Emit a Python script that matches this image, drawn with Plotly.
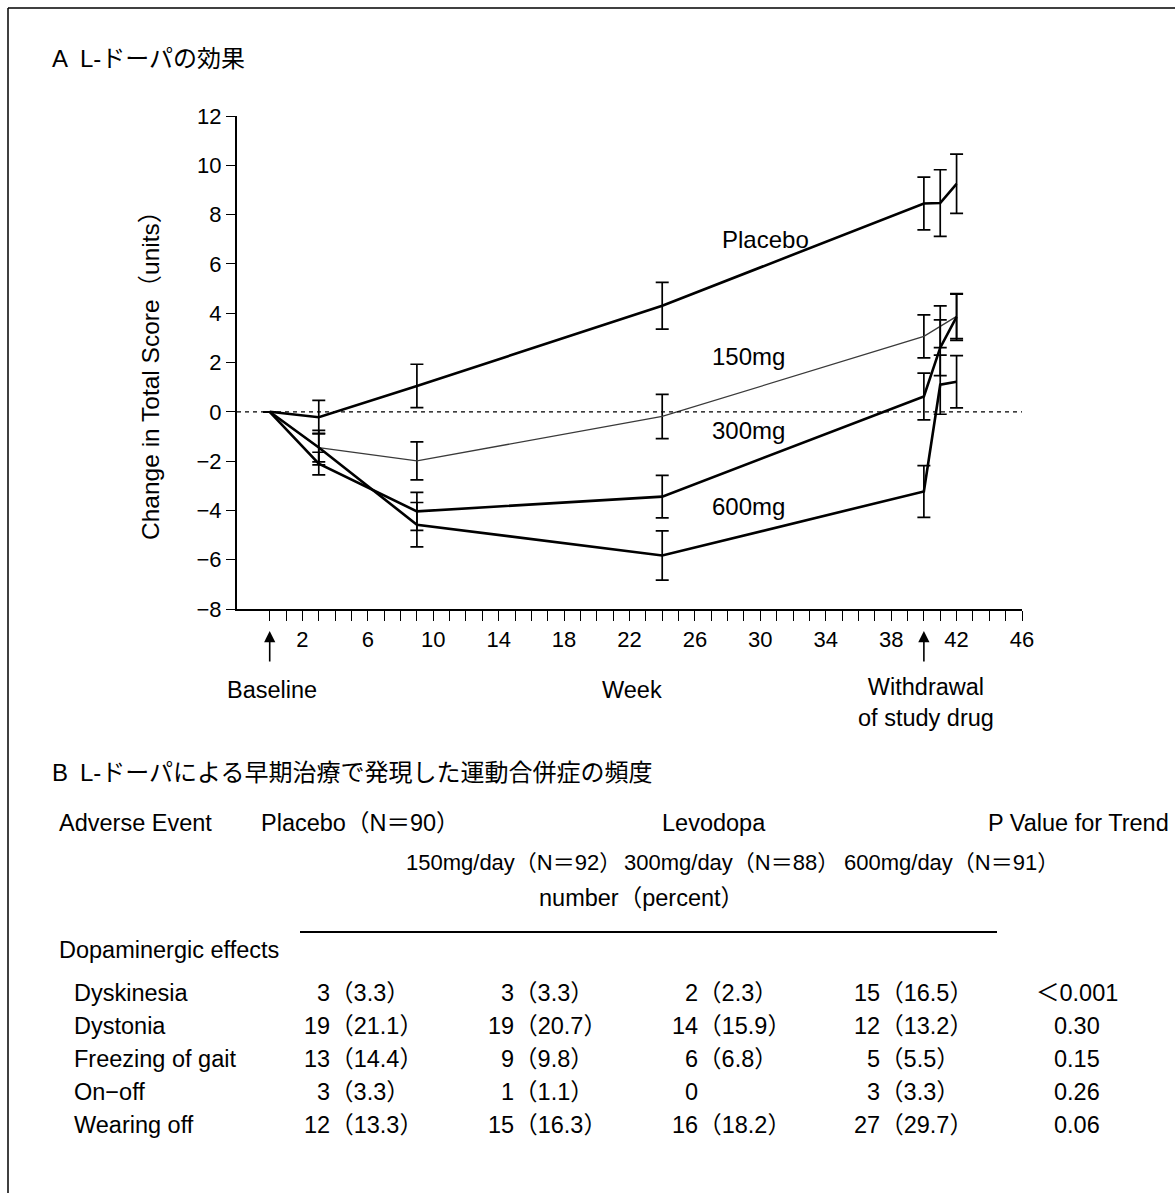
import plotly.graph_objects as go

W, H = 1175, 1193
FONT = "Liberation Sans, Arial, Noto Sans CJK JP, sans-serif"

# ---------------- data: panel A ----------------
weeks = [0, 3, 9, 24, 40, 41, 42]
placebo = [0, -0.22, 1.05, 4.3, 8.45, 8.47, 9.25]
placebo_err = [None, 0.68, 0.88, 0.95, 1.07, 1.35, 1.2]
mg150 = [0, -1.45, -1.99, -0.19, 3.06, 3.45, 3.87]
mg150_err = [None, 0.7, 0.77, 0.9, 0.87, 0.85, 0.9]
mg300 = [0, -2.1, -4.04, -3.44, 0.62, 2.6, 3.85]
mg300_err = [None, 0.46, 0.77, 0.86, 0.95, 1.13, 0.95]
mg600 = [0, -1.45, -4.58, -5.83, -3.23, 1.1, 1.22]
mg600_err = [None, 0.58, 0.9, 1.0, 1.05, 1.2, 1.06]

x_tickvals = list(range(0, 47))
x_ticklabels = [str(v) if (v - 2) % 4 == 0 else "" for v in x_tickvals]
y_tickvals = list(range(-8, 13, 2))

# series label positions (week, value)
series_names = ["Placebo", "150mg", "300mg", "600mg"]
label_pos = [(30.3, 7.0), (29.3, 2.25), (29.3, -0.77), (29.3, -3.85)]

# ---------------- data: panel B ----------------
events = ["Dyskinesia", "Dystonia", "Freezing of gait", "On\u2212off", "Wearing off"]
placebo_n = ["3", "19", "13", "3", "12"]
placebo_pct = ["3.3", "21.1", "14.4", "3.3", "13.3"]
d150_n = ["3", "19", "9", "1", "15"]
d150_pct = ["3.3", "20.7", "9.8", "1.1", "16.3"]
d300_n = ["2", "14", "6", "0", "16"]
d300_pct = ["2.3", "15.9", "6.8", "", "18.2"]
d600_n = ["15", "12", "5", "3", "27"]
d600_pct = ["16.5", "13.2", "5.5", "3.3", "29.7"]
p_trend = ["\uff1c0.001", "0.30", "0.15", "0.26", "0.06"]
group_headers = ["150mg/day\uff08N\uff1d92\uff09", "300mg/day\uff08N\uff1d88\uff09", "600mg/day\uff08N\uff1d91\uff09"]


def px(x):
    return x / W


def py(y):
    return 1 - y / H


fig = go.Figure()

styles = [
    dict(color="black", width=2.6),
    dict(color="#3a3a3a", width=1.3),
    dict(color="black", width=2.6),
    dict(color="black", width=2.6),
]
series = [(placebo, placebo_err), (mg150, mg150_err), (mg300, mg300_err), (mg600, mg600_err)]
for (vals, errs), st, name in zip(series, styles, series_names):
    fig.add_trace(go.Scatter(
        x=weeks, y=vals, mode="lines", name=name, line=st,
        error_y=dict(type="data", array=errs, visible=True, color="black",
                     thickness=1.7, width=6.5),
        showlegend=False,
    ))

x0d, x1d = 237, 1022
ytop, ybot = 116, 609

fig.update_layout(
    width=W, height=H,
    margin=dict(l=0, r=0, t=0, b=0, pad=0, autoexpand=False),
    paper_bgcolor="white", plot_bgcolor="white",
    font=dict(family=FONT, size=22, color="black"),
    xaxis=dict(
        domain=[px(x0d), px(x1d)], range=[-2, 46],
        tickvals=x_tickvals, ticktext=x_ticklabels,
        ticks="outside", ticklen=10, tickwidth=1.4, tickcolor="black",
        showline=True, linecolor="black", linewidth=2,
        showgrid=False, zeroline=False, automargin=False,
        tickfont=dict(size=22),
    ),
    yaxis=dict(
        domain=[py(ybot), py(ytop)], range=[-8, 12],
        tickvals=y_tickvals,
        ticks="outside", ticklen=9, tickwidth=1.4, tickcolor="black",
        showline=True, linecolor="black", linewidth=2,
        showgrid=False, zeroline=False, automargin=False,
        tickfont=dict(size=22),
    ),
)

shapes = []
# zero reference line
shapes.append(dict(type="line", xref="x", yref="y", x0=-2, x1=46, y0=0, y1=0,
                   line=dict(color="black", width=1.3, dash="4px,4px")))
# frame (top and left)
shapes.append(dict(type="line", xref="paper", yref="paper", x0=px(8), x1=1, y0=py(8), y1=py(8),
                   line=dict(color="black", width=1.5)))
shapes.append(dict(type="line", xref="paper", yref="paper", x0=px(8), x1=px(8), y0=py(8), y1=0,
                   line=dict(color="black", width=1.5)))
# table rule
shapes.append(dict(type="line", xref="paper", yref="paper", x0=px(300), x1=px(997), y0=py(932), y1=py(932),
                   line=dict(color="black", width=2)))

ann = []
LBL = 23.5
DIGIT = 0.556  # digit advance (em) in Liberation Sans


def text(x, y, s, size=LBL, xanchor="left", **kw):
    ann.append(dict(x=px(x), y=py(y), xref="paper", yref="paper", text=s, showarrow=False,
                    xanchor=xanchor, yanchor="middle", font=dict(size=size, family=FONT), **kw))


# Panel A titles
text(50, 58, "A\u2002L-ドーパの効果", size=24)
text(150, 370, "Change in Total Score\uff08units\uff09", size=24.5, xanchor="center", textangle=-90)
text(272, 690, "Baseline", xanchor="center")
text(632, 690, "Week", xanchor="center")
text(926, 702, "Withdrawal<br>of study drug", xanchor="center")

for name, (wx, wy) in zip(series_names, label_pos):
    ann.append(dict(x=wx, y=wy, xref="x", yref="y", text=name, showarrow=False,
                    xanchor="center", yanchor="middle", font=dict(size=24, family=FONT)))

# arrows at baseline and withdrawal
for wk in [0, 40]:
    ann.append(dict(x=wk, y=py(631), xref="x", yref="paper", text="", showarrow=True,
                    ax=0, ay=32, arrowhead=2, arrowsize=1.4, arrowwidth=1.6, arrowcolor="black"))

# Panel B
text(50, 772, "B\u2002L-ドーパによる早期治療で発現した運動合併症の頻度", size=24)
text(57, 823, "Adverse Event")
text(259, 823, "Placebo\uff08N\uff1d90\uff09")
text(714, 823, "Levodopa", xanchor="center")
text(1171, 823, "P Value for Trend", xanchor="right")
for hx, hs in zip([404, 622, 842], group_headers):
    text(hx, 862, hs, size=22)
text(641, 898, "number\uff08percent\uff09", xanchor="center")
text(57, 950, "Dopaminergic effects")

row_y = [993, 1026, 1059, 1092, 1125]
num_right = [328, 512, 696, 878]
cols = [(placebo_n, placebo_pct), (d150_n, d150_pct), (d300_n, d300_pct), (d600_n, d600_pct)]
for i, ry in enumerate(row_y):
    text(72, ry, events[i])
    for (ns, ps), xr in zip(cols, num_right):
        cell = ns[i] + ("\uff08" + ps[i] + "\uff09" if ps[i] else "")
        text(xr - len(ns[i]) * DIGIT * LBL, ry, cell)
    text(1077, ry, p_trend[i], xanchor="center")

fig.update_layout(shapes=shapes, annotations=ann)
fig.write_html(
    "out.html",
    config={"displayModeBar": False},
    post_script=(
        "document.documentElement.style.overflow='hidden';"
        "document.body.style.margin='0';document.body.style.overflow='hidden';"
        "var d=document.querySelector('.plotly-graph-div');"
        "d.style.position='fixed';d.style.left='0px';d.style.top='0px';"
    ),
)
